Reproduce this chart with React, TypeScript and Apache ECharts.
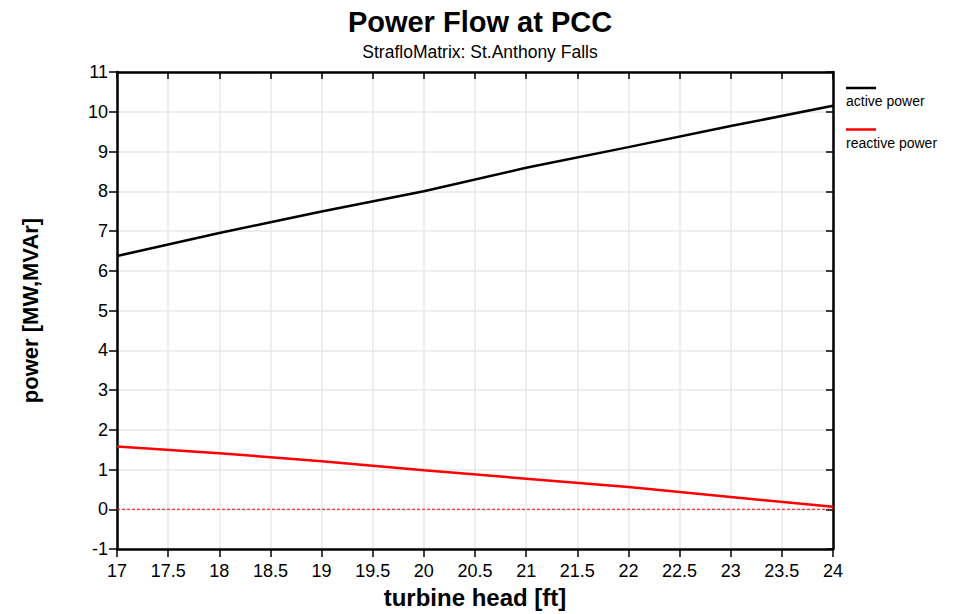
import React, { useEffect, useRef } from "react";
import * as echarts from "echarts";

const xHead = [17, 18, 18.5, 19, 20, 21, 22, 23, 24];
const activePower = [6.37, 6.95, 7.22, 7.49, 8.0, 8.59, 9.11, 9.64, 10.15];
const reactivePower = [1.58, 1.41, 1.31, 1.21, 0.98, 0.77, 0.56, 0.31, 0.06];
const zeroLineX = [17, 24];
const zeroLineY = [0, 0];
const seriesNames = ["active power", "reactive power"];
const seriesColors = ["#000000", "#ff0000"];

const FONT = "Liberation Sans, Arial, sans-serif";

export default function App() {
  const ref = useRef<HTMLDivElement>(null);
  useEffect(() => {
    if (!ref.current) return;
    const chart = echarts.init(ref.current, null, { renderer: "svg" });
    const grid = { left: 117, right: 125, top: 72, bottom: 61.5 };
    const plotCenter = grid.left + (958 - grid.left - grid.right) / 2;
    chart.setOption({
      animation: false,
      backgroundColor: "#ffffff",
      textStyle: { fontFamily: FONT },
      title: [
        {
          text: "Power Flow at PCC",
          left: plotCenter,
          textAlign: "center",
          top: 2,
          textStyle: { fontSize: 29, fontWeight: "bold", color: "#000", fontFamily: FONT },
        },
        {
          text: "StrafloMatrix: St.Anthony Falls",
          left: plotCenter,
          textAlign: "center",
          top: 38,
          textStyle: { fontSize: 17.5, fontWeight: "normal", color: "#000", fontFamily: FONT },
        },
      ],
      grid,
      xAxis: [
        {
          type: "value",
          position: "bottom",
          min: 17,
          max: 24,
          interval: 0.5,
          name: "turbine head [ft]",
          nameLocation: "middle",
          nameGap: 36,
          nameTextStyle: { fontSize: 24, fontWeight: "bold", color: "#000", fontFamily: FONT },
          axisLine: { show: true, onZero: false, lineStyle: { color: "#000", width: 2.5 } },
          axisTick: { show: true, inside: false, length: 8, lineStyle: { color: "#000", width: 1.5 } },
          axisLabel: { color: "#000", fontSize: 18, margin: 13, fontFamily: FONT },
          splitLine: { show: true, lineStyle: { color: "#e8e8e8", width: 1.5 } },
        },
        {
          type: "value",
          position: "top",
          min: 17,
          max: 24,
          interval: 0.5,
          axisLine: { show: true, onZero: false, lineStyle: { color: "#000", width: 2.5 } },
          axisTick: { show: true, inside: true, length: 7, lineStyle: { color: "#000", width: 1.5 } },
          axisLabel: { show: false },
          splitLine: { show: false },
        },
      ],
      yAxis: [
        {
          type: "value",
          position: "left",
          min: -1,
          max: 11,
          interval: 1,
          name: "power [MW,MVAr]",
          nameLocation: "middle",
          nameGap: 76,
          nameTextStyle: { fontSize: 22, fontWeight: "bold", color: "#000", fontFamily: FONT },
          axisLine: { show: true, onZero: false, lineStyle: { color: "#000", width: 2.5 } },
          axisTick: { show: true, inside: false, length: 8, lineStyle: { color: "#000", width: 1.5 } },
          axisLabel: { color: "#000", fontSize: 18, margin: 9, fontFamily: FONT },
          splitLine: { show: true, lineStyle: { color: "#e8e8e8", width: 1.5 } },
        },
        {
          type: "value",
          position: "right",
          min: -1,
          max: 11,
          interval: 1,
          axisLine: { show: true, onZero: false, lineStyle: { color: "#000", width: 2.5 } },
          axisTick: { show: true, inside: true, length: 7, lineStyle: { color: "#000", width: 1.5 } },
          axisLabel: { show: false },
          splitLine: { show: false },
        },
      ],
      series: [
        {
          name: "zero",
          type: "line",
          xAxisIndex: 0,
          yAxisIndex: 0,
          data: zeroLineX.map((x, i) => [x, zeroLineY[i]]),
          showSymbol: false,
          symbol: "none",
          silent: true,
          lineStyle: { color: "#ff0000", width: 1.2, type: [3, 2] },
          itemStyle: { color: "#ff0000" },
          z: 4,
        },
        {
          name: seriesNames[0],
          type: "line",
          xAxisIndex: 0,
          yAxisIndex: 0,
          data: xHead.map((x, i) => [x, activePower[i]]),
          showSymbol: false,
          symbol: "none",
          lineStyle: { color: seriesColors[0], width: 2.5 },
          itemStyle: { color: seriesColors[0] },
          z: 5,
        },
        {
          name: seriesNames[1],
          type: "line",
          xAxisIndex: 0,
          yAxisIndex: 0,
          data: xHead.map((x, i) => [x, reactivePower[i]]),
          showSymbol: false,
          symbol: "none",
          lineStyle: { color: seriesColors[1], width: 2.5 },
          itemStyle: { color: seriesColors[1] },
          z: 5,
        },
      ],
      graphic: [
        {
          type: "line",
          shape: { x1: 846, y1: 88, x2: 876, y2: 88 },
          style: { stroke: seriesColors[0], lineWidth: 2.5 },
        },
        {
          type: "text",
          x: 846,
          y: 108,
          style: { text: seriesNames[0], fill: "#000", fontSize: 14, fontFamily: FONT, verticalAlign: "bottom" },
        },
        {
          type: "line",
          shape: { x1: 846, y1: 129.5, x2: 876, y2: 129.5 },
          style: { stroke: seriesColors[1], lineWidth: 2.5 },
        },
        {
          type: "text",
          x: 846,
          y: 150,
          style: { text: seriesNames[1], fill: "#000", fontSize: 14, fontFamily: FONT, verticalAlign: "bottom" },
        },
      ],
    });
    return () => chart.dispose();
  }, []);
  return <div ref={ref} style={{ width: 958, height: 614, position: "absolute", left: 0, top: 0 }} />;
}
